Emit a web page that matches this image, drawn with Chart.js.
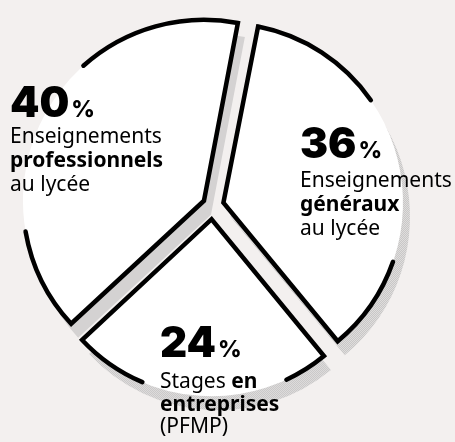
<!DOCTYPE html>
<html lang="fr">
<head>
<meta charset="utf-8">
<script src="https://cdn.jsdelivr.net/npm/chart.js@4.4.1/dist/chart.umd.min.js"></script>
<style>
  html, body { margin: 0; padding: 0; background: #f3f0ef; }
  #graphique { display: block; }
</style>
</head>
<body>
<canvas id="graphique" width="455" height="442"></canvas>
<script>
// Données (ordre horaire à partir du haut)
const categories = ['Enseignements généraux au lycée', 'Stages en entreprises (PFMP)', 'Enseignements professionnels au lycée'];
const valeurs = [36, 24, 40];
// Lignes de texte de chaque étiquette : [morceau, gras ?]
const lignesEtiquettes = [
  [[['Enseignements', false]], [['généraux', true]], [['au lycée', false]]],
  [[['Stages ', false], ['en', true]], [['entreprises', true]], [['(PFMP)', false]]],
  [[['Enseignements', false]], [['professionnels', true]], [['au lycée', false]]]
];

// Mise en forme
const decalages = [45, 55, 39];            // écartement de chaque part
const coupures = [[55, 109], [155, 203], [260, 318]]; // arc sans contour (degrés depuis le haut)
const ombre = { x: 7, y: 14 };
const etiquettes = [
  { x: 300, yChiffre: 158, yTexte: 187, pas: 24 },
  { x: 160, yChiffre: 357, yTexte: 388, pas: 22.5 },
  { x: 10, yChiffre: 117, yTexte: 143, pas: 24 }
];
const policeTexte = '"Noto Sans", "Open Sans", sans-serif';
const policeChiffre = 'Inter, "Noto Sans", sans-serif';

// petite tuile pour la trame grise de l'ombre
const tuile = document.createElement('canvas');
tuile.width = 2; tuile.height = 2;
const t = tuile.getContext('2d');
t.fillStyle = '#eeebea'; t.fillRect(0, 0, 2, 2);
t.fillStyle = '#bababa'; t.fillRect(0, 0, 1, 1); t.fillRect(1, 1, 1, 1);

function copieArc(arc, styles) {
  const Arc = arc.constructor;
  return new Arc({
    x: arc.x, y: arc.y,
    startAngle: arc.startAngle, endAngle: arc.endAngle,
    innerRadius: arc.innerRadius, outerRadius: arc.outerRadius,
    circumference: arc.circumference,
    options: Object.assign({}, arc.options, styles)
  });
}

const decor = {
  id: 'decor',
  beforeDatasetsDraw(chart) {
    const ctx = chart.ctx;
    const motif = ctx.createPattern(tuile, 'repeat');
    chart.getDatasetMeta(0).data.forEach(arc => {
      const copie = copieArc(arc, { backgroundColor: motif, borderWidth: 0 });
      ctx.save();
      ctx.translate(ombre.x, ombre.y);
      copie.draw(ctx);
      ctx.restore();
    });
  },
  afterDatasetsDraw(chart) {
    const ctx = chart.ctx;
    const rad = d => d * Math.PI / 180;
    chart.getDatasetMeta(0).data.forEach((arc, i) => {
      const o = arc.options;
      const rayon = arc.outerRadius + (o.offset / 4) * (1 - Math.sin(Math.min(Math.PI, arc.circumference)));
      const debut = arc.startAngle * 180 / Math.PI + 90;
      const [g0, g1] = coupures[i];
      const tirets = [rayon * rad(g0 - debut), rayon * rad(g1 - g0), 5000];
      const copie = copieArc(arc, {
        backgroundColor: 'rgba(0,0,0,0)', borderWidth: 4.5, borderColor: '#000',
        borderJoinStyle: 'miter', borderDash: tirets, borderDashOffset: 0
      });
      ctx.save();
      ctx.setLineDash(tirets);
      ctx.lineCap = 'round';
      copie.draw(ctx);
      ctx.restore();
    });
  },
  afterDraw(chart) {
    const ctx = chart.ctx;
    ctx.save();
    ctx.fillStyle = '#000';
    ctx.textBaseline = 'alphabetic';
    valeurs.forEach((v, i) => {
      const e = etiquettes[i];
      ctx.font = '900 42px ' + policeChiffre;
      ctx.fillText(String(v), e.x, e.yChiffre);
      const w = ctx.measureText(String(v)).width;
      ctx.font = '800 23px ' + policeChiffre;
      ctx.fillText('%', e.x + w + 2, e.yChiffre);
      lignesEtiquettes[i].forEach((ligne, j) => {
        let x = e.x;
        ligne.forEach(([texte, gras]) => {
          ctx.font = (gras ? '700 ' : '400 ') + '21px ' + policeTexte;
          ctx.fillText(texte, x, e.yTexte + j * e.pas);
          x += ctx.measureText(texte).width;
        });
      });
    });
    ctx.restore();
  }
};

new Chart(document.getElementById('graphique'), {
  type: 'pie',
  data: {
    labels: categories,
    datasets: [{
      data: valeurs,
      backgroundColor: '#ffffff',
      borderWidth: 0,
      offset: decalages
    }]
  },
  options: {
    responsive: false,
    animation: false,
    events: [],
    rotation: 11,
    radius: 177,
    layout: { padding: { left: 0, right: 30, top: 0, bottom: 31 } },
    plugins: { legend: { display: false }, tooltip: { enabled: false } }
  },
  plugins: [decor]
});
</script>
</body>
</html>
